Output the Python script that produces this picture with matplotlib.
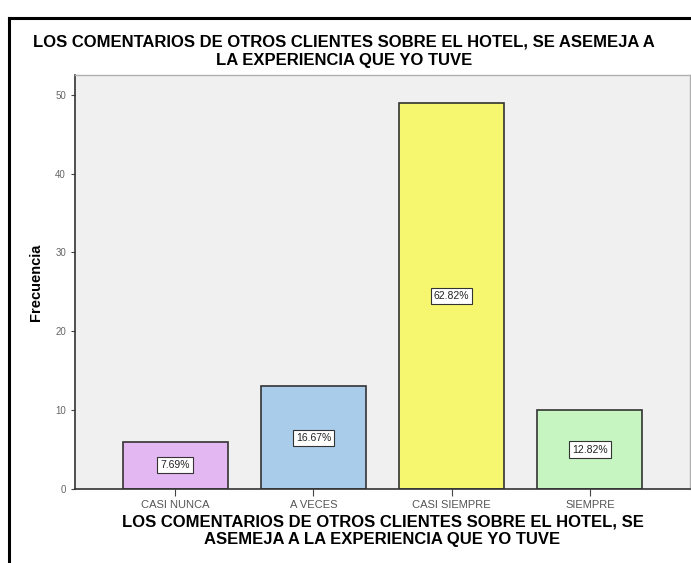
import matplotlib
matplotlib.use('Agg')
import matplotlib.pyplot as plt
from matplotlib.lines import Line2D

plt.rcParams['font.family'] = ['Liberation Sans', 'DejaVu Sans']

categorias = ['CASI NUNCA', 'A VECES', 'CASI SIEMPRE', 'SIEMPRE']
frecuencias = [6, 13, 49, 10]
porcentajes = ['7.69%', '16.67%', '62.82%', '12.82%']
colores = ['#e3b8f2', '#a9cceb', '#f7f76f', '#c6f5c2']
titulo = 'LOS COMENTARIOS DE OTROS CLIENTES SOBRE EL HOTEL, SE ASEMEJA A\nLA EXPERIENCIA QUE YO TUVE'
etiqueta_x = 'LOS COMENTARIOS DE OTROS CLIENTES SOBRE EL HOTEL, SE\nASEMEJA A LA EXPERIENCIA QUE YO TUVE'

W, H = 691, 563
fig = plt.figure(figsize=(W / 100, H / 100), dpi=100)
fig.patch.set_facecolor('white')

# outer frame (only top and left visible in the crop)
fig.add_artist(Line2D([9 / W, 9 / W], [-0.05, 1 - 18 / H], transform=fig.transFigure,
                      color='black', lw=2.2))
fig.add_artist(Line2D([9 / W, 1.05], [1 - 18 / H, 1 - 18 / H], transform=fig.transFigure,
                      color='black', lw=2.2))

ax = fig.add_axes([75 / W, (H - 489) / H, (690 - 75) / W, (489 - 75) / H])
ax.set_facecolor('#f0f0f0')

x = list(range(len(categorias)))
ax.bar(x, frecuencias, width=0.76, color=colores, edgecolor='#333333', linewidth=1.2, zorder=2)

for xi, v, p in zip(x, frecuencias, porcentajes):
    ax.text(xi, v / 2, p, ha='center', va='center', fontsize=7.5, color='#222222', zorder=3,
            bbox=dict(boxstyle='square,pad=0.3', facecolor='white', edgecolor='#333333', linewidth=0.8))

ax.set_xlim(-0.725, 3.725)
ax.set_ylim(0, 52.5)
ax.set_yticks([0, 10, 20, 30, 40, 50])
ax.set_xticks(x)
ax.set_xticklabels(categorias, fontsize=8, color='#555555')
ax.tick_params(axis='y', labelsize=7, labelcolor='#666666', length=3, color='#444444')
ax.tick_params(axis='x', length=5, color='#444444', pad=3)

for s in ['top', 'right']:
    ax.spines[s].set_color('#b0b0b0')
    ax.spines[s].set_linewidth(1.0)
for s in ['left', 'bottom']:
    ax.spines[s].set_color('#333333')
    ax.spines[s].set_linewidth(1.2)

ax.set_ylabel('Frecuencia', fontsize=10.5, fontweight='bold', labelpad=9)
ax.set_xlabel(etiqueta_x, fontsize=12, fontweight='bold', labelpad=3, linespacing=1.2)

fig.text(344 / W, 1 - 51 / H, titulo, ha='center', va='center', fontsize=12,
         fontweight='bold', linespacing=1.25)

fig.savefig('out.png', dpi=100)
